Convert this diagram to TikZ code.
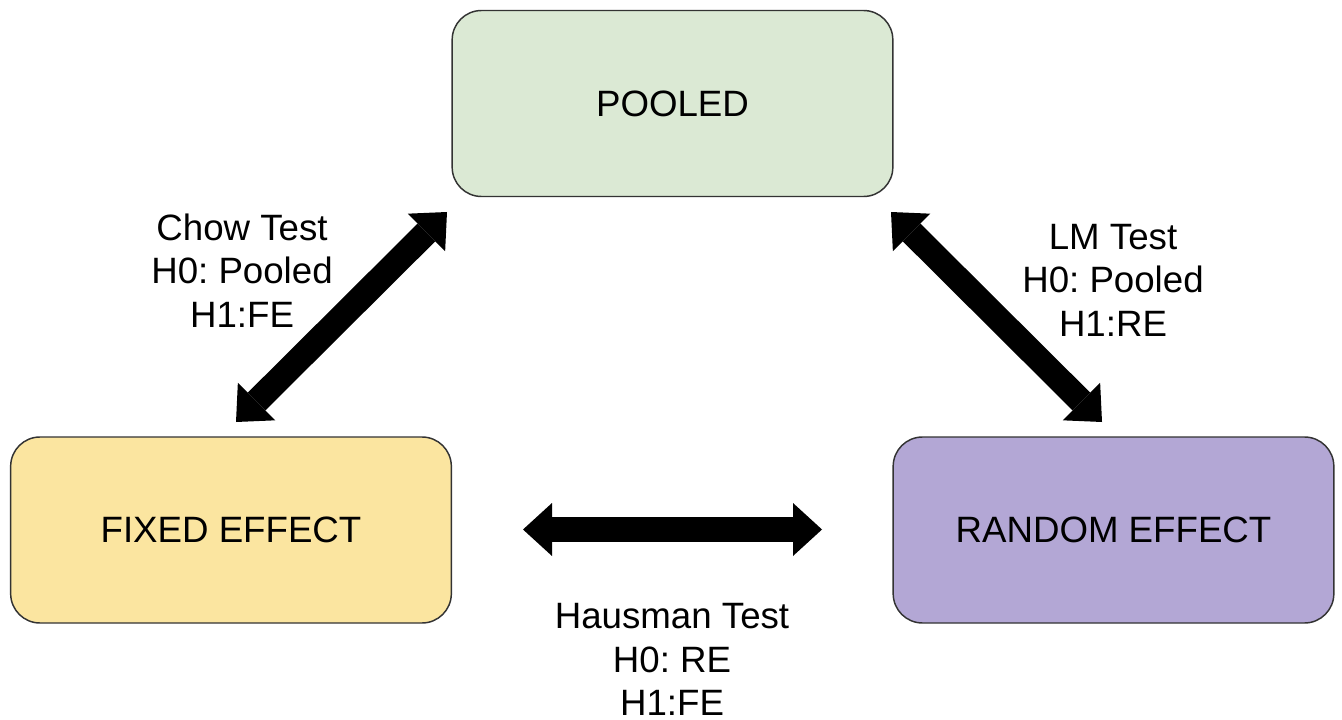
\documentclass[tikz,border=0pt]{standalone}
\usepackage{fontspec}
\setmainfont{Liberation Sans}
\usetikzlibrary{arrows.meta}
\definecolor{pooledfill}{HTML}{DBE9D4}
\definecolor{fixedfill}{HTML}{FBE5A0}
\definecolor{randomfill}{HTML}{B3A7D5}
\definecolor{boxline}{HTML}{333333}
\frenchspacing
\begin{document}
\begin{tikzpicture}[x=0.75pt,y=-0.75pt,
  modelbox/.style={draw=boxline, line width=1.1pt, rounded corners=22pt,
    minimum width=330.5pt, minimum height=139.5pt, inner sep=0pt,
    font=\fontsize{27.5}{32.6}\selectfont},
  testlabel/.style={align=center, inner sep=0pt,
    font=\fontsize{27.5}{32.6}\selectfont},
  bigarrow/.style={line width=18.75pt,
    {Triangle[length=21.75pt,width=39.75pt,line width=0pt]}-{Triangle[length=21.75pt,width=39.75pt,line width=0pt]}}
]
\useasboundingbox (0,0) rectangle (1342,720);
\node[modelbox, fill=pooledfill] (pooled) at (672.5,103.5) {POOLED};
\node[modelbox, fill=fixedfill] (fixed) at (231,530) {FIXED EFFECT};
\node[modelbox, fill=randomfill] (random) at (1113.5,530) {RANDOM EFFECT};

\coordinate (chowA) at (236,422);
\coordinate (chowB) at (447,212);
\coordinate (lmA) at (891,212);
\coordinate (lmB) at (1102,422);
\coordinate (hauA) at (523,529.5);
\coordinate (hauB) at (822,529.5);

\draw[bigarrow] (chowA) -- (chowB);
\draw[bigarrow] (lmA) -- (lmB);
\draw[bigarrow] (hauA) -- (hauB);

\node[testlabel] (chow) at (242,270.5) {Chow Test\\H0: Pooled\\H1:FE};
\node[testlabel] (lm) at (1113,280) {LM Test\\H0: Pooled\\H1:RE};
\node[testlabel] (hausman) at (672,659.5) {Hausman Test\\H0: RE\\H1:FE};
\end{tikzpicture}
\end{document}
